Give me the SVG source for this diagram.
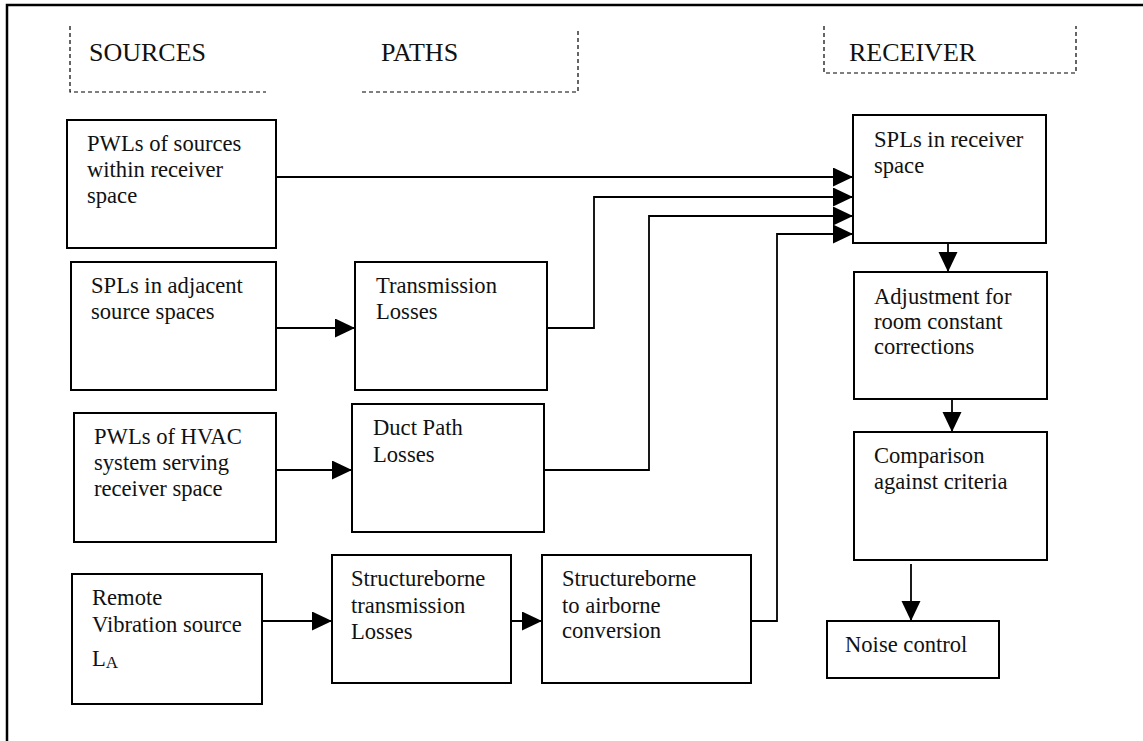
<svg xmlns="http://www.w3.org/2000/svg" width="1143" height="741" viewBox="0 0 1143 741">
  <style>
    .box { fill: #ffffff; stroke: #000000; stroke-width: 2; }
    .lbl { font-family: "Liberation Serif", "Times New Roman", serif; font-size: 22.6px; fill: #111111; }
    .hdr { font-family: "Liberation Serif", "Times New Roman", serif; font-size: 26px; fill: #111111; }
    .sub { font-size: 17px; }
    .dash { fill: none; stroke: #000000; stroke-width: 1.2; stroke-dasharray: 4 3; }
    .arrow { fill: none; stroke: #000000; stroke-width: 1.8; marker-end: url(#head); }
  </style>
  <defs>
    <marker id="head" markerUnits="userSpaceOnUse" markerWidth="21" markerHeight="20" refX="20" refY="9.5" orient="auto">
      <path d="M0,0 L20,9.5 L0,19 Z" fill="#000000"/>
    </marker>
  </defs>

  <rect width="1143" height="741" fill="#ffffff"/>

  <!-- outer frame (open to the right and bottom) -->
  <path d="M7,741 V5 H1143" fill="none" stroke="#000000" stroke-width="2.5"/>

  <!-- column headings -->
  <g id="hdr-sources">
    <path class="dash" d="M70,26 V92 H266"/>
    <text class="hdr" x="89" y="61">SOURCES</text>
  </g>
  <g id="hdr-paths">
    <path class="dash" d="M362,92 H578 V28"/>
    <text class="hdr" x="381" y="61">PATHS</text>
  </g>
  <g id="hdr-receiver">
    <path class="dash" d="M824,26 V73 H1076 V26"/>
    <text class="hdr" x="849" y="61">RECEIVER</text>
  </g>

  <!-- connectors -->
  <g id="connectors">
    <path class="arrow" d="M276,177 H853"/>
    <path class="arrow" d="M545,328 H594 V197 H853"/>
    <path class="arrow" d="M542,470 H649 V216 H853"/>
    <path class="arrow" d="M749,621 H777 V234 H853"/>
    <path class="arrow" d="M276,328 H355"/>
    <path class="arrow" d="M276,470 H352"/>
    <path class="arrow" d="M262,621 H332"/>
    <path class="arrow" d="M509,621 H542"/>
    <path class="arrow" d="M948,243 V272"/>
    <path class="arrow" d="M952,394 V432"/>
    <path class="arrow" d="M911,564 V621"/>
  </g>

  <!-- sources -->
  <g id="src-within">
    <rect class="box" x="67" y="120" width="209" height="128"/>
    <text class="lbl" x="87" y="151">PWLs of sources</text>
    <text class="lbl" x="87" y="177">within receiver</text>
    <text class="lbl" x="87" y="203">space</text>
  </g>
  <g id="src-adjacent">
    <rect class="box" x="71" y="262" width="205" height="128"/>
    <text class="lbl" x="91" y="293">SPLs in adjacent</text>
    <text class="lbl" x="91" y="319">source spaces</text>
  </g>
  <g id="src-hvac">
    <rect class="box" x="74" y="413" width="202" height="129"/>
    <text class="lbl" x="94" y="444">PWLs of HVAC</text>
    <text class="lbl" x="94" y="470">system serving</text>
    <text class="lbl" x="94" y="496">receiver space</text>
  </g>
  <g id="src-vibration">
    <rect class="box" x="72" y="574" width="190" height="130"/>
    <text class="lbl" x="92" y="605">Remote</text>
    <text class="lbl" x="92" y="632">Vibration source</text>
    <text class="lbl" x="92" y="666">L<tspan class="sub" dy="2">A</tspan></text>
  </g>

  <!-- paths -->
  <g id="path-transmission">
    <rect class="box" x="355" y="262" width="192" height="128"/>
    <text class="lbl" x="376" y="293">Transmission</text>
    <text class="lbl" x="376" y="319">Losses</text>
  </g>
  <g id="path-duct">
    <rect class="box" x="352" y="404" width="192" height="128"/>
    <text class="lbl" x="373" y="435">Duct Path</text>
    <text class="lbl" x="373" y="462">Losses</text>
  </g>
  <g id="path-structure">
    <rect class="box" x="332" y="555" width="179" height="128"/>
    <text class="lbl" x="351" y="586">Structureborne</text>
    <text class="lbl" x="351" y="613">transmission</text>
    <text class="lbl" x="351" y="639">Losses</text>
  </g>
  <g id="path-conversion">
    <rect class="box" x="542" y="555" width="209" height="128"/>
    <text class="lbl" x="562" y="586">Structureborne</text>
    <text class="lbl" x="562" y="613">to airborne</text>
    <text class="lbl" x="562" y="638">conversion</text>
  </g>

  <!-- receiver -->
  <g id="rcv-spl">
    <rect class="box" x="853" y="115" width="193" height="128"/>
    <text class="lbl" x="874" y="147">SPLs in receiver</text>
    <text class="lbl" x="874" y="173">space</text>
  </g>
  <g id="rcv-adjust">
    <rect class="box" x="854" y="272" width="193" height="127"/>
    <text class="lbl" x="874" y="304">Adjustment for</text>
    <text class="lbl" x="874" y="329">room constant</text>
    <text class="lbl" x="874" y="354">corrections</text>
  </g>
  <g id="rcv-compare">
    <rect class="box" x="854" y="432" width="193" height="128"/>
    <text class="lbl" x="874" y="463">Comparison</text>
    <text class="lbl" x="874" y="489">against criteria</text>
  </g>
  <g id="rcv-noise">
    <rect class="box" x="827" y="621" width="172" height="57"/>
    <text class="lbl" x="845" y="652">Noise control</text>
  </g>
</svg>
